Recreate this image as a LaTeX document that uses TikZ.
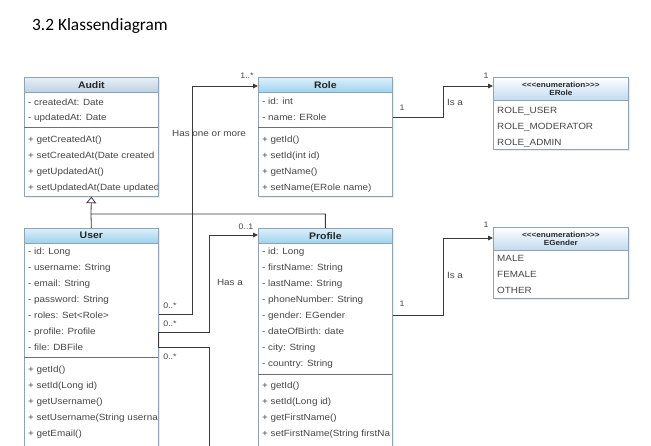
\documentclass[tikz,border=0pt]{standalone}
\usepackage{fontspec}
\setmainfont{Liberation Sans}
\newfontfamily\boxfont[FakeStretch=1.1]{Liberation Sans}
\newfontfamily\titlefont{Carlito}
\usetikzlibrary{arrows.meta,shadows}
\definecolor{bordc}{HTML}{8FA3B6}
\definecolor{sepc}{HTML}{707070}
\definecolor{txtc}{HTML}{474747}
\definecolor{linec}{HTML}{3A3A3A}
\definecolor{hdtop}{HTML}{DDF0FA}
\definecolor{hdbot}{HTML}{9DD2EE}
\definecolor{audtop}{HTML}{E8EFF6}
\definecolor{audbot}{HTML}{BCD1E4}
\definecolor{entop}{HTML}{FFFFFF}
\definecolor{enbot}{HTML}{BFDAEF}
\tikzset{
  classbox/.style={draw=bordc, fill=white, line width=0.7pt, anchor=north west,
    minimum width=134pt, inner sep=0pt,
    drop shadow={opacity=0.15, shadow xshift=1.6pt, shadow yshift=-1.6pt}},
  hdr/.style={draw=bordc, line width=0.7pt, anchor=north west, minimum width=134pt, inner sep=0pt,
    top color=hdtop, bottom color=hdbot, text=black!85,
    font=\boxfont\bfseries\fontsize{9.5}{11}\selectfont},
  enhdr/.style={hdr, top color=entop, bottom color=enbot, align=center,
    font=\boxfont\bfseries\fontsize{7.4}{8.8}\selectfont},
  rowtext/.style={anchor=base west, inner sep=0pt, text=txtc,
    font=\boxfont\fontsize{9}{10}\selectfont},
  sepline/.style={draw=sepc, line width=0.8pt},
  conn/.style={draw=linec, line width=0.8pt},
  arr/.style={-{Triangle[length=5pt,width=4.5pt]}},
  gen/.style={-{Triangle[open, length=6.5pt, width=10pt, fill=white]}},
  lbl/.style={inner sep=0pt, text=txtc, font=\boxfont\fontsize{9}{10}\selectfont},
  mult/.style={inner sep=0pt, text=txtc, font=\boxfont\fontsize{8}{9}\selectfont},
}
\begin{document}
\begin{tikzpicture}[x=1pt,y=-1pt]
\clip (0,0) rectangle (651,445);
\fill[white] (0,0) rectangle (651,445);

\node[anchor=base west, inner sep=0pt, font=\titlefont\fontsize{17.3}{20}\selectfont] (title) at (32,30.5) {3.2 Klassendiagram};

% ---------- Audit ----------
\node[classbox, minimum height=119pt] (audit) at (24,77) {};
\node[hdr, top color=audtop, bottom color=audbot, minimum height=15pt] (audith) at (24,77) {Audit};
\draw[sepline] (24,127) -- (158,127);
\begin{scope}
\clip (24,77) rectangle (157.3,196);
\node[rowtext] (auditA1) at (28,105.5) {- createdAt: Date};
\node[rowtext] (auditA2) at (28,120.5) {- updatedAt: Date};
\node[rowtext] (auditM1) at (28,142.5) {+ getCreatedAt()};
\node[rowtext] (auditM2) at (28,158.5) {+ setCreatedAt(Date created};
\node[rowtext] (auditM3) at (28,174.5) {+ getUpdatedAt()};
\node[rowtext] (auditM4) at (28,190.5) {+ setUpdatedAt(Date updated};
\end{scope}

% ---------- Role ----------
\node[classbox, minimum height=119pt] (role) at (258,77) {};
\node[hdr, minimum height=15pt] (roleh) at (258,77) {Role};
\draw[sepline] (258,127) -- (392,127);
\node[rowtext] (roleA1) at (262,104.5) {- id: int};
\node[rowtext] (roleA2) at (262,120.5) {- name: ERole};
\node[rowtext] (roleM1) at (262,142.5) {+ getId()};
\node[rowtext] (roleM2) at (262,158.5) {+ setId(int id)};
\node[rowtext] (roleM3) at (262,174.5) {+ getName()};
\node[rowtext] (roleM4) at (262,190.5) {+ setName(ERole name)};

% ---------- ERole ----------
\node[classbox, minimum height=72pt, minimum width=135pt] (erole) at (493,77) {};
\node[enhdr, minimum height=23pt, minimum width=135pt] (eroleh) at (493,77) {<<<enumeration>>>\\ERole};
\node[rowtext] (erole1) at (497,113.5) {ROLE\_USER};
\node[rowtext] (erole2) at (497,129.5) {ROLE\_MODERATOR};
\node[rowtext] (erole3) at (497,145.5) {ROLE\_ADMIN};

% ---------- User ----------
\node[classbox, minimum height=230pt] (user) at (24,228) {};
\node[hdr, minimum height=14.5pt] (userh) at (24,228) {User};
\draw[sepline] (24,357) -- (158,357);
\begin{scope}
\clip (24,228) rectangle (157.3,450);
\node[rowtext] (userA1) at (28,254.5) {- id: Long};
\node[rowtext] (userA2) at (28,270.5) {- username: String};
\node[rowtext] (userA3) at (28,286.5) {- email: String};
\node[rowtext] (userA4) at (28,302.5) {- password: String};
\node[rowtext] (userA5) at (28,318.5) {- roles: Set<Role>};
\node[rowtext] (userA6) at (28,334.5) {- profile: Profile};
\node[rowtext] (userA7) at (28,350.5) {- file: DBFile};
\node[rowtext] (userM1) at (28,372.5) {+ getId()};
\node[rowtext] (userM2) at (28,388.5) {+ setId(Long id)};
\node[rowtext] (userM3) at (28,404.5) {+ getUsername()};
\node[rowtext] (userM4) at (28,420.5) {+ setUsername(String userna};
\node[rowtext] (userM5) at (28,436.5) {+ getEmail()};
\end{scope}

% ---------- Profile ----------
\node[classbox, minimum height=230pt] (profile) at (258,228) {};
\node[hdr, minimum height=15pt] (profileh) at (258,228) {Profile};
\draw[sepline] (258,374) -- (392,374);
\begin{scope}
\clip (258,228) rectangle (391.3,450);
\node[rowtext] (profA1) at (262,254.5) {- id: Long};
\node[rowtext] (profA2) at (262,270.5) {- firstName: String};
\node[rowtext] (profA3) at (262,286.5) {- lastName: String};
\node[rowtext] (profA4) at (262,302.5) {- phoneNumber: String};
\node[rowtext] (profA5) at (262,318.5) {- gender: EGender};
\node[rowtext] (profA6) at (262,334.5) {- dateOfBirth: date};
\node[rowtext] (profA7) at (262,350.5) {- city: String};
\node[rowtext] (profA8) at (262,366.5) {- country: String};
\node[rowtext] (profM1) at (262,388.5) {+ getId()};
\node[rowtext] (profM2) at (262,404.5) {+ setId(Long id)};
\node[rowtext] (profM3) at (262,420.5) {+ getFirstName()};
\node[rowtext] (profM4) at (262,436.5) {+ setFirstName(String firstNa};
\end{scope}

% ---------- EGender ----------
\node[classbox, minimum height=71pt, minimum width=135pt] (egender) at (493,227) {};
\node[enhdr, minimum height=23pt, minimum width=135pt] (egenderh) at (493,227) {<<<enumeration>>>\\EGender};
\node[rowtext] (egender1) at (497,261.5) {MALE};
\node[rowtext] (egender2) at (497,277.5) {FEMALE};
\node[rowtext] (egender3) at (497,293.5) {OTHER};

% ---------- Connectors ----------
\coordinate (genjoin) at (91,214);
\coordinate (offbottom) at (209,452);
\draw[conn] (user.north) -- (genjoin) -| (profile.north);
\draw[conn, gen] (genjoin) -- (audit.south);

\draw[conn, arr] (user.east |- 0,314) -- (192,314) -- (192,86) -- (role.west |- 0,86);
\draw[conn, arr] (user.east |- 0,332) -- (209,332) -- (209,235) -- (profile.west |- 0,235);
\draw[conn] (user.east |- 0,332) -- (user.east |- 0,347) -- (209,347) -- (offbottom);
\draw[conn, arr] (role.east |- 0,117) -- (443,117) -- (443,86) -- (erole.west |- 0,86);
\draw[conn, arr] (profile.east |- 0,315) -- (443,315) -- (443,238) -- (egender.west |- 0,238);

% ---------- Labels ----------
\node[mult] (m1) at (247,76) {1..*};
\node[lbl] (hasmore) at (209,133) {Has one or more};
\node[mult] (m2) at (170,306) {0..*};
\node[mult] (m3) at (170,324) {0..*};
\node[mult] (m4) at (170,357) {0..*};
\node[mult] (m5) at (246,227) {0..1};
\node[lbl] (hasa) at (230,282) {Has a};
\node[mult] (m6) at (402,108) {1};
\node[lbl] (isa1) at (455,102) {Is a};
\node[mult] (m7) at (486,76) {1};
\node[mult] (m8) at (486,225) {1};
\node[lbl] (isa2) at (455,275) {Is a};
\node[mult] (m9) at (402,304) {1};
\end{tikzpicture}
\end{document}
